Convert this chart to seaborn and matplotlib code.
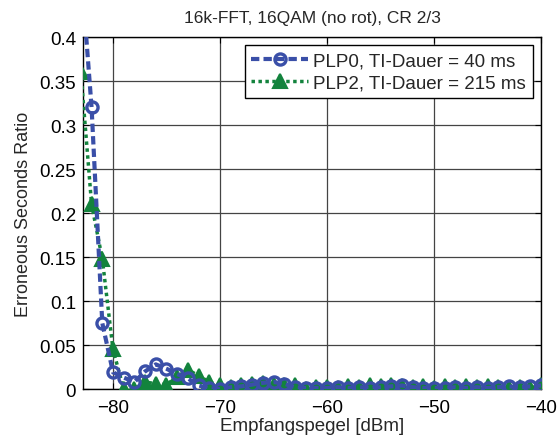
import matplotlib
matplotlib.use("Agg")
import matplotlib.pyplot as plt
import seaborn as sns
import numpy as np
import pandas as pd
from matplotlib.ticker import FuncFormatter, MultipleLocator

# ---- data ----
level_dbm = list(range(-83, -39))  # -83 .. -40
plp0_esr = [0.48, 0.32, 0.075, 0.019, 0.013, 0.008, 0.020, 0.028, 0.023, 0.017,
            0.012, 0.004, 0.001, 0.000, 0.002, 0.003, 0.005, 0.007, 0.008, 0.006,
            0.002, 0.001, 0.001, 0.001, 0.002, 0.001, 0.002, 0.001, 0.002, 0.003,
            0.004, 0.002, 0.001, 0.001, 0.001, 0.002, 0.001, 0.002, 0.001, 0.002,
            0.003, 0.002, 0.003, 0.004]
plp2_esr = [0.36, 0.21, 0.148, 0.045, 0.000, 0.000, 0.008, 0.006, 0.005, 0.014,
            0.022, 0.015, 0.008, 0.004, 0.002, 0.004, 0.006, 0.007, 0.004, 0.005,
            0.004, 0.000, 0.002, 0.002, 0.001, 0.003, 0.002, 0.004, 0.003, 0.005,
            0.003, 0.002, 0.003, 0.001, 0.003, 0.002, 0.003, 0.002, 0.003, 0.002,
            0.001, 0.002, 0.001, 0.005]
series_labels = ["PLP0, TI-Dauer = 40 ms", "PLP2, TI-Dauer = 215 ms"]
title = "16k-FFT, 16QAM (no rot), CR 2/3"
xlabel = "Empfangspegel [dBm]"
ylabel = "Erroneous Seconds Ratio"

sns.set_style("white")
plt.rcParams['font.family'] = ['Liberation Sans', 'DejaVu Sans']

fig = plt.figure(figsize=(5.59, 4.39), dpi=100)
ax = fig.add_axes([0.1485, 0.1116, 0.8195, 0.8018])

blue = "#3a4fa8"
green = "#13833d"

sns.lineplot(x=level_dbm, y=plp2_esr, ax=ax, color=green, linestyle=(0, (1, 1)),
             linewidth=2.5, marker='^', markersize=10.5, markerfacecolor=green,
             markeredgecolor=green, markeredgewidth=1.5, label=series_labels[1], zorder=3)
sns.lineplot(x=level_dbm, y=plp0_esr, ax=ax, color=blue, linestyle=(0, (2, 1)),
             linewidth=3, marker='o', markersize=8, markerfacecolor='none',
             markeredgecolor=blue, markeredgewidth=2.4, label=series_labels[0], zorder=4)

ax.set_xlim(-82.8, -40)
ax.set_ylim(0, 0.4)
ax.xaxis.set_major_locator(MultipleLocator(10))
ax.yaxis.set_major_locator(MultipleLocator(0.05))
ax.yaxis.set_major_formatter(FuncFormatter(lambda v, p: "%g" % round(v, 3)))
ax.grid(True, color="#444444", linewidth=0.9)
ax.tick_params(direction='in', length=4, labelsize=13.5, colors='black',
               top=True, right=True, bottom=True, left=True)
ax.tick_params(axis='x', pad=7)
ax.tick_params(axis='y', pad=5)
for s in ax.spines.values():
    s.set_color('black')
    s.set_linewidth(1.0)

ax.set_title(title, fontsize=12.5, pad=11)
ax.set_xlabel(xlabel, fontsize=13.5, labelpad=1)
ax.set_ylabel(ylabel, fontsize=13, labelpad=5)

h, l = ax.get_legend_handles_labels()
order = [l.index(series_labels[0]), l.index(series_labels[1])]
leg = ax.legend([h[i] for i in order], [l[i] for i in order], loc='upper right',
                fontsize=13.5, frameon=True, fancybox=False, edgecolor='black',
                framealpha=1, handlelength=3.0, borderaxespad=0.45,
                handletextpad=0.3, borderpad=0.35, labelspacing=0.3)
leg.get_frame().set_linewidth(1.0)

fig.savefig("out.png", dpi=100)
